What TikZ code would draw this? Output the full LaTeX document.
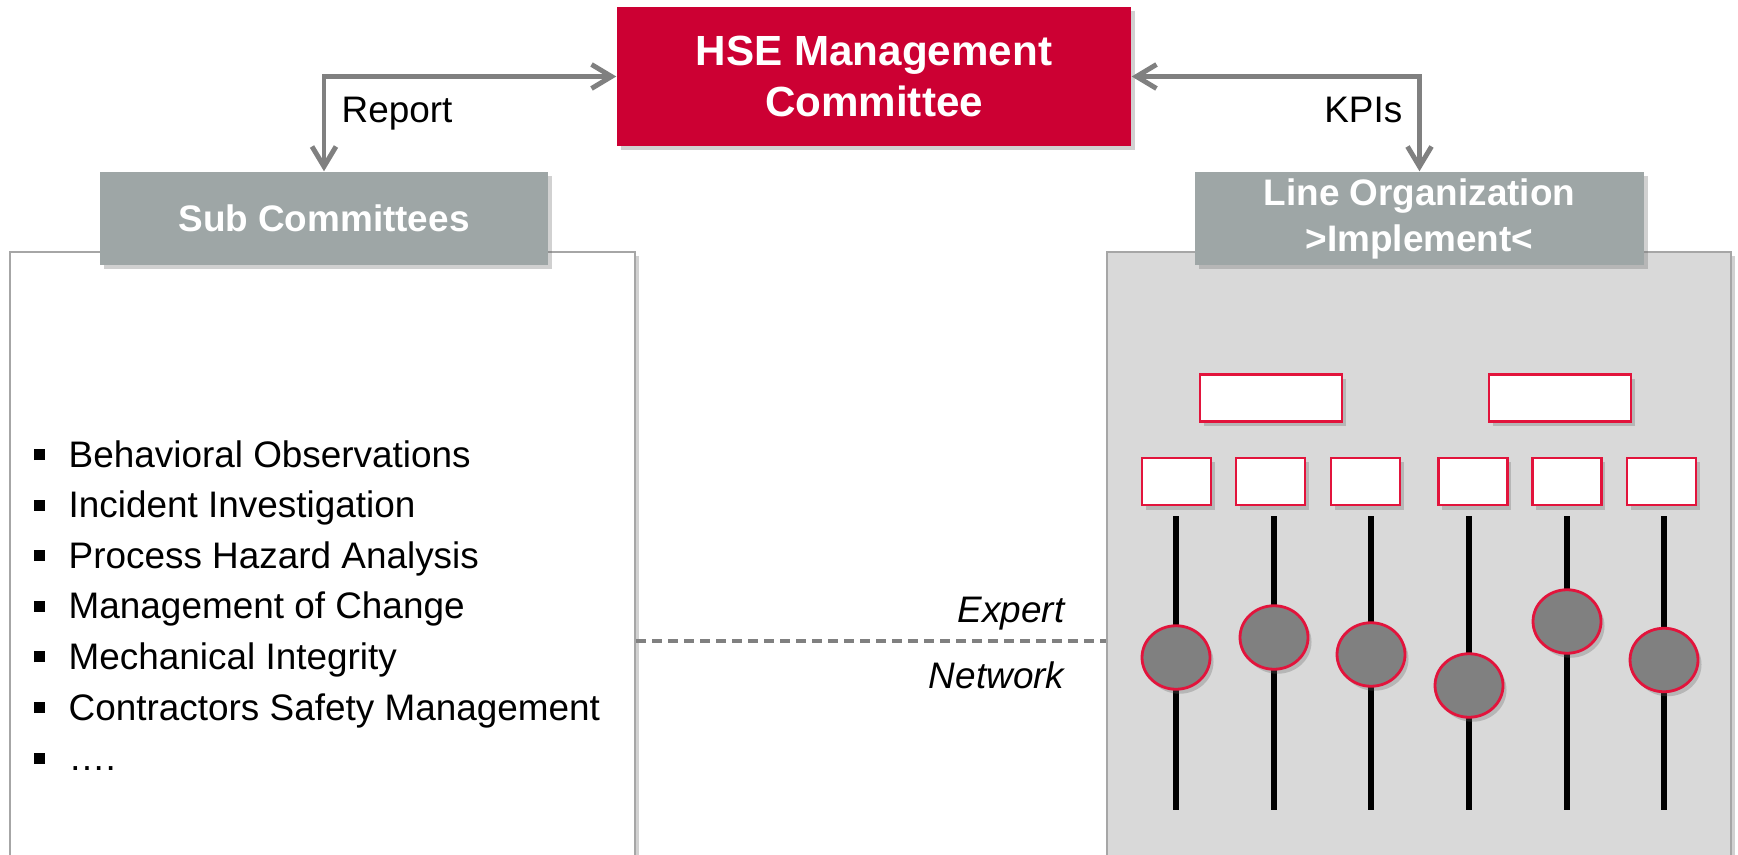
\documentclass[tikz,border=0pt]{standalone}
\usepackage{fontspec}
\setmainfont{Liberation Sans}
\usetikzlibrary{positioning,arrows.meta,shapes.geometric,shadows}
\definecolor{hsered}{RGB}{204,0,51}
\definecolor{knobred}{RGB}{226,20,60}
\definecolor{headgray}{RGB}{158,166,166}
\definecolor{panelgray}{RGB}{217,217,217}
\definecolor{framegray}{RGB}{166,166,166}
\definecolor{linkgray}{RGB}{128,128,128}
\definecolor{knobgray}{RGB}{128,128,128}

\newcommand{\bodysize}{\fontsize{10.5}{13.1}\selectfont}
\newcommand{\titlesize}{\fontsize{12}{14.6}\selectfont}
\newcommand{\sqitem}{\makebox[0.35cm][l]{\rule[0.07cm]{0.11cm}{0.11cm}}}

\begin{document}
\begin{tikzpicture}[
    font=\bodysize,
    boxshadow/.style={drop shadow={shadow xshift=0.035cm, shadow yshift=-0.045cm,
        opacity=0.3, fill=black!60}},
    committee/.style={fill=hsered, text=white, font=\titlesize\bfseries, align=center,
        minimum width=5.14cm, minimum height=1.39cm, inner sep=0pt, boxshadow},
    header/.style={fill=headgray, text=white, font=\bodysize\bfseries, align=center,
        minimum width=4.48cm, minimum height=0.93cm, inner sep=0pt, boxshadow},
    panel/.style={draw=framegray, line width=0.8pt, minimum width=6.25cm,
        minimum height=6.4cm, inner sep=0pt, boxshadow},
    unit/.style={draw=knobred, line width=0.7pt, fill=white, minimum height=0.47cm,
        inner sep=0pt, boxshadow},
    knob/.style={ellipse, draw=knobred, line width=0.8pt, fill=knobgray,
        minimum width=0.68cm, minimum height=0.635cm, inner sep=0pt, boxshadow},
    track/.style={line width=1.55pt, black},
    link/.style={{Straight Barb[length=2mm,width=2.4mm]}-{Straight Barb[length=2mm,width=2.4mm]},
        line width=1.4pt, draw=linkgray},
    network/.style={draw=linkgray, line width=0.9pt, dash pattern=on 0.1cm off 0.06cm},
    tag/.style={inner sep=0pt},
    item/.style={anchor=base west, inner sep=0pt}
]
\clip (0,0) rectangle (17.38,-8.55);

% the two panels, running off the bottom edge
\node[panel, fill=white] (subpanel) at (3.225,-5.72) {};
\node[panel, fill=panelgray, minimum width=6.24cm] (linepanel) at (14.19,-5.72) {};

% top level and the two headers
\node[committee] (hse) at (8.74,-0.765) {HSE Management\\Committee};
\node[header] (subhead) at (3.24,-2.185) {Sub Committees};
\node[header, minimum width=4.49cm] (linehead) at (14.195,-2.185) {Line Organization\\>Implement<};

\draw[link] (hse.west) -| (subhead.north);
\draw[link] (hse.east) -| (linehead.north);
\node[tag, anchor=base west] (report) at (3.41,-1.225) {Report};
\node[tag, anchor=base east] (kpis) at (14.03,-1.225) {KPIs};

% sub committee topics
\node[item] (obs) at (0.33,-4.67) {\sqitem Behavioral Observations};
\node[item] (inv) at (0.33,-5.176) {\sqitem Incident Investigation};
\node[item] (pha) at (0.33,-5.682) {\sqitem Process Hazard Analysis};
\node[item] (moc) at (0.33,-6.188) {\sqitem Management of Change};
\node[item] (mi) at (0.33,-6.694) {\sqitem Mechanical Integrity};
\node[item] (csm) at (0.33,-7.20) {\sqitem Contractors Safety Management};
\node[item] (more) at (0.33,-7.706) {\sqitem ….};

% expert network across both panels
\coordinate (netlvl) at (0,-6.41);
\draw[network] (subpanel.east |- netlvl) -- (linepanel.west |- netlvl);
\node[tag, anchor=base east, font=\bodysize\itshape] (expert) at (10.65,-6.22) {Expert};
\node[tag, anchor=base east, font=\bodysize\itshape] (network) at (10.65,-6.88) {Network};

% line organization units
\node[unit, minimum width=1.42cm] (deptA) at (12.71,-3.98) {};
\node[unit, minimum width=1.42cm] (deptB) at (15.60,-3.98) {};
\node[unit, minimum width=0.69cm] (teamA) at (11.765,-4.815) {};
\node[unit, minimum width=0.69cm] (teamB) at (12.705,-4.815) {};
\node[unit, minimum width=0.69cm] (teamC) at (13.655,-4.815) {};
\node[unit, minimum width=0.69cm] (teamD) at (14.73,-4.815) {};
\node[unit, minimum width=0.69cm] (teamE) at (15.67,-4.815) {};
\node[unit, minimum width=0.69cm] (teamF) at (16.615,-4.815) {};

% faders
\draw[track] (11.76,-5.16) -- (11.76,-8.10);
\draw[track] (12.74,-5.16) -- (12.74,-8.10);
\draw[track] (13.71,-5.16) -- (13.71,-8.10);
\draw[track] (14.69,-5.16) -- (14.69,-8.10);
\draw[track] (15.67,-5.16) -- (15.67,-8.10);
\draw[track] (16.64,-5.16) -- (16.64,-8.10);
\node[knob] (knobA) at (11.76,-6.575) {};
\node[knob] (knobB) at (12.74,-6.375) {};
\node[knob] (knobC) at (13.71,-6.545) {};
\node[knob] (knobD) at (14.69,-6.855) {};
\node[knob] (knobE) at (15.67,-6.215) {};
\node[knob] (knobF) at (16.64,-6.60) {};
\end{tikzpicture}
\end{document}
